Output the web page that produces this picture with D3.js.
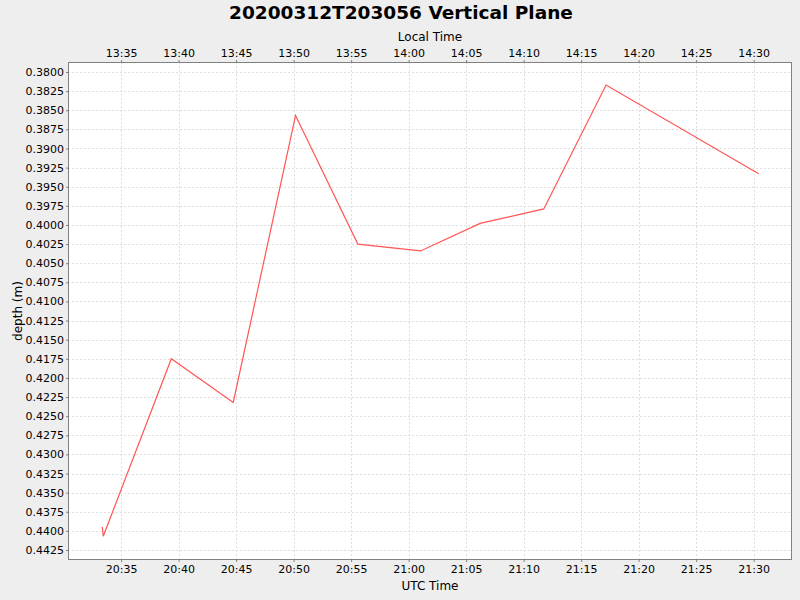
<!DOCTYPE html>
<html>
<head>
<meta charset="utf-8">
<script src="https://cdn.jsdelivr.net/npm/d3@7"></script>
<style>
  body { margin: 0; background: #eeeeee; }
  svg { display: block; font-family: "DejaVu Sans", sans-serif; }
</style>
</head>
<body>
<svg id="viz" width="800" height="600"></svg>
<script>
// sample times (UTC) and depths
const times = ["20:33:22", "20:33:27", "20:39:22", "20:44:45", "20:50:10", "20:55:35",
               "21:01:02", "21:06:13", "21:11:45", "21:17:10", "21:30:26"];
const depths = [0.4395, 0.4407, 0.4175, 0.4232, 0.3857, 0.4025,
                0.4034, 0.3998, 0.3979, 0.3817, 0.3933];
const yTicks = d3.range(0, 26).map(i => 0.38 + i * 0.0025);
const localOffsetHours = -7;

const parse = d3.utcParse("%Y-%m-%d %H:%M:%S");
const data = times.map((t, i) => ({ t: parse("2020-03-12 " + t), d: depths[i] }));

const svg = d3.select("#viz");
const margin = {top: 62, right: 8, bottom: 40, left: 68};
const width = 800 - margin.left - margin.right;
const height = 600 - margin.top - margin.bottom;

svg.append("rect").attr("width", 800).attr("height", 600).attr("fill", "#eeeeee");

const x = d3.scaleUtc()
    .domain([parse("2020-03-12 20:30:23"), parse("2020-03-12 21:33:20")])
    .range([0, width]);
const y = d3.scaleLinear()
    .domain([0.37869, 0.44381])
    .range([0, height]);

const g = svg.append("g").attr("transform", `translate(${margin.left},${margin.top})`);

g.append("rect").attr("width", width).attr("height", height).attr("fill", "white");

const xTicks = x.ticks(d3.utcMinute.every(5));

// grid
g.append("g").selectAll("line").data(xTicks).enter().append("line")
    .attr("x1", d => Math.round(x(d)) + 0.5).attr("x2", d => Math.round(x(d)) + 0.5)
    .attr("y1", 0).attr("y2", height)
    .attr("stroke", "#dedede").attr("stroke-dasharray", "2,2");
g.append("g").selectAll("line").data(yTicks).enter().append("line")
    .attr("y1", d => Math.round(y(d)) + 0.5).attr("y2", d => Math.round(y(d)) + 0.5)
    .attr("x1", 0).attr("x2", width)
    .attr("stroke", "#dedede").attr("stroke-dasharray", "2,2");

// axes
const fmt = d3.utcFormat("%H:%M");
const styleAxis = sel => {
    sel.select(".domain").remove();
    sel.selectAll(".tick line").attr("stroke", "#808080");
    sel.selectAll(".tick text").attr("fill", "#000").style("font-size", "11px")
        .style("font-family", "DejaVu Sans, sans-serif");
};

g.append("g").attr("transform", `translate(0,${height})`)
    .call(d3.axisBottom(x).tickValues(xTicks).tickFormat(fmt).tickSizeInner(2).tickSizeOuter(0).tickPadding(3))
    .call(styleAxis);

g.append("g")
    .call(d3.axisTop(x).tickValues(xTicks)
        .tickFormat(d => fmt(d3.utcHour.offset(d, localOffsetHours)))
        .tickSizeInner(2).tickSizeOuter(0).tickPadding(3))
    .call(styleAxis);

g.append("g")
    .call(d3.axisLeft(y).tickValues(yTicks).tickFormat(d3.format(".4f")).tickSizeInner(2).tickSizeOuter(0).tickPadding(2))
    .call(styleAxis);

// outline
g.append("rect").attr("x", 0.5).attr("y", 0.5).attr("width", width - 1).attr("height", height - 1)
    .attr("fill", "none").attr("stroke", "#808080");

// series
const line = d3.line().x(d => x(d.t)).y(d => y(d.d));
g.append("path").datum(data).attr("d", line)
    .attr("fill", "none").attr("stroke", "#ff5555").attr("stroke-width", 1.2);

// labels
svg.append("text").attr("x", 401).attr("y", 19).attr("text-anchor", "middle")
    .style("font-size", "18.5px").style("font-weight", "bold").text("20200312T203056 Vertical Plane");
svg.append("text").attr("x", margin.left + width / 2).attr("y", 41).attr("text-anchor", "middle")
    .style("font-size", "12px").text("Local Time");
svg.append("text").attr("x", margin.left + width / 2).attr("y", 590).attr("text-anchor", "middle")
    .style("font-size", "12px").text("UTC Time");
svg.append("text").attr("transform", `translate(22,${margin.top + height / 2}) rotate(-90)`)
    .attr("text-anchor", "middle").style("font-size", "12px").text("depth (m)");
</script>
</body>
</html>
